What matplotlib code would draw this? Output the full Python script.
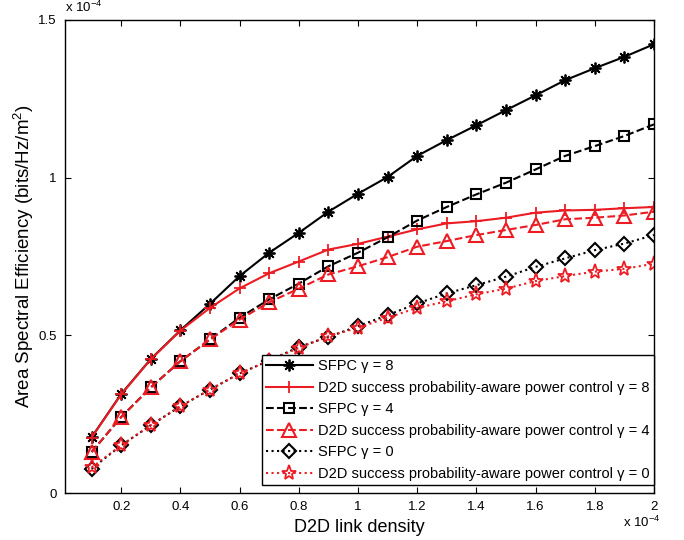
import numpy as np
import matplotlib
matplotlib.use("Agg")
import matplotlib.pyplot as plt

plt.rcParams['font.family'] = ['Liberation Sans', 'DejaVu Sans']
plt.rcParams['mathtext.fontset'] = 'custom'
plt.rcParams['mathtext.rm'] = 'Liberation Sans'

# D2D link density (x 1e-4)
density = [0.1, 0.2, 0.3, 0.4, 0.5, 0.6, 0.7, 0.8, 0.9, 1.0,
           1.1, 1.2, 1.3, 1.4, 1.5, 1.6, 1.7, 1.8, 1.9, 2.0]

# area spectral efficiency (x 1e-4)
sfpc_g8 = [0.177, 0.314, 0.425, 0.516, 0.600, 0.688, 0.762, 0.825, 0.892, 0.949,
           1.002, 1.069, 1.119, 1.166, 1.214, 1.261, 1.309, 1.347, 1.383, 1.423]
d2d_g8 = [0.176, 0.313, 0.424, 0.515, 0.587, 0.649, 0.697, 0.734, 0.772, 0.790,
          0.813, 0.836, 0.855, 0.862, 0.873, 0.889, 0.896, 0.898, 0.903, 0.907]
sfpc_g4 = [0.130, 0.241, 0.335, 0.418, 0.487, 0.556, 0.614, 0.664, 0.719, 0.762,
           0.811, 0.864, 0.907, 0.947, 0.984, 1.026, 1.069, 1.100, 1.132, 1.169]
d2d_g4 = [0.130, 0.241, 0.335, 0.418, 0.487, 0.550, 0.605, 0.648, 0.693, 0.719,
          0.748, 0.781, 0.799, 0.818, 0.834, 0.850, 0.868, 0.873, 0.880, 0.892]
sfpc_g0 = [0.077, 0.151, 0.215, 0.275, 0.328, 0.379, 0.420, 0.463, 0.495, 0.529,
           0.564, 0.601, 0.633, 0.659, 0.686, 0.717, 0.744, 0.770, 0.791, 0.818]
d2d_g0 = [0.081, 0.151, 0.215, 0.275, 0.328, 0.379, 0.420, 0.460, 0.497, 0.524,
          0.556, 0.587, 0.608, 0.630, 0.648, 0.672, 0.688, 0.702, 0.711, 0.727]

labels = ["SFPC \u03b3 = 8",
          "D2D success probability-aware power control \u03b3 = 8",
          "SFPC \u03b3 = 4",
          "D2D success probability-aware power control \u03b3 = 4",
          "SFPC \u03b3 = 0",
          "D2D success probability-aware power control \u03b3 = 0"]

red = '#ec1c24'

fig = plt.figure(figsize=(6.84, 5.4), dpi=100)
ax = fig.add_axes([0.095, 0.087, 0.861, 0.876])

ax.plot(density, sfpc_g8, '-', color='black', lw=1.5, marker=(8, 2, 0), ms=8.5, mew=1.3, label=labels[0])
ax.plot(density, d2d_g8, '-', color=red, lw=1.5, marker='+', ms=9, mew=1.3, label=labels[1])
ax.plot(density, sfpc_g4, '--', color='black', lw=1.5, marker='s', ms=7.5, mew=1.5, mfc='none', label=labels[2])
ax.plot(density, d2d_g4, '--', color=red, lw=1.5, marker='^', ms=9.5, mew=1.5, mfc='none', label=labels[3])
ax.plot(density, sfpc_g0, ':', color='black', lw=1.5, marker='D', ms=7, mew=1.5, mfc='none', label=labels[4])
ax.plot(density, d2d_g0, ':', color=red, lw=1.5, marker='*', ms=11, mew=1.3, mfc='none', label=labels[5])

ax.set_xlim(0.01, 2.0)
ax.set_ylim(0, 1.5)
ax.set_xticks([0.2, 0.4, 0.6, 0.8, 1.0, 1.2, 1.4, 1.6, 1.8, 2.0])
ax.set_xticklabels(['0.2', '0.4', '0.6', '0.8', '1', '1.2', '1.4', '1.6', '1.8', '2'])
ax.set_yticks([0, 0.5, 1.0, 1.5])
ax.set_yticklabels(['0', '0.5', '1', '1.5'])
ax.tick_params(direction='in', top=True, right=True, length=4, width=0.8, labelsize=9.5, pad=6)
for s in ax.spines.values():
    s.set_linewidth(1.0)

ax.set_xlabel('D2D link density', fontsize=13, labelpad=4)
ax.set_ylabel('Area Spectral Efficiency (bits/Hz/m$^2$)', fontsize=13.5, labelpad=1.5)

fig.text(0.095, 0.972, 'x 10$^{-4}$', fontsize=9.5, ha='left', va='bottom')
fig.text(0.965, 0.018, 'x 10$^{-4}$', fontsize=9.5, ha='right', va='bottom')

leg = ax.legend(loc='lower right', bbox_to_anchor=(1.0, 0.016), borderaxespad=0,
                fontsize=10.5, handlelength=3.2, handletextpad=0.35, labelspacing=0.52,
                borderpad=0.3, fancybox=False, framealpha=1, edgecolor='black')
leg.get_frame().set_linewidth(1.0)

fig.savefig('out.png', dpi=100)
